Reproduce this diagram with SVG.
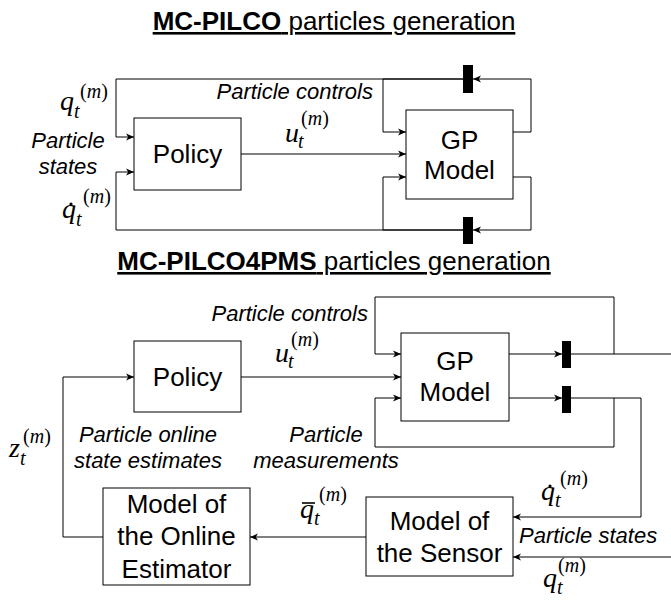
<svg xmlns="http://www.w3.org/2000/svg" width="671" height="600" viewBox="0 0 671 600">
<style>
.box{fill:#fff;stroke:#000;stroke-width:1}
.bl{font-family:"Liberation Sans",Arial,sans-serif;font-size:26px;fill:#000;text-anchor:middle}
.it{font-family:"Liberation Sans",Arial,sans-serif;font-size:22px;font-style:italic;fill:#000}
.title{font-family:"Liberation Sans",Arial,sans-serif;font-size:26px;fill:#000;text-anchor:middle;text-decoration:underline}
.mb{font-family:"Liberation Serif","Times New Roman",serif;font-size:28px;font-style:italic;fill:#000}
.ms{font-family:"Liberation Serif","Times New Roman",serif;font-size:20px;font-style:italic;fill:#000}
.up{font-style:normal}
.ln{fill:none;stroke:#000;stroke-width:1}
.bar{fill:#000}
</style>
<defs>
<marker id="ah" markerUnits="userSpaceOnUse" markerWidth="9" markerHeight="8" refX="8" refY="4" orient="auto">
<path d="M0,0.5 L8,4 L0,7.5 L2.2,4 Z" fill="#000"/>
</marker>
</defs>

<text class="title" x="334" y="30"><tspan font-weight="bold">MC-PILCO</tspan> particles generation</text>
<text class="title" x="334" y="270"><tspan font-weight="bold">MC-PILCO4PMS</tspan> particles generation</text>

<g id="connectors">
<path class="ln" d="M241,154 H406" marker-end="url(#ah)"/>
<path class="ln" d="M513,132 H531 V79 H473" marker-end="url(#ah)"/>
<path class="ln" d="M463,79 H383 V132 H406" marker-end="url(#ah)"/>
<path class="ln" d="M463,79 H116 V137 H134" marker-end="url(#ah)"/>
<path class="ln" d="M513,177 H531 V230 H473" marker-end="url(#ah)"/>
<path class="ln" d="M463,230 H383 V177 H406" marker-end="url(#ah)"/>
<path class="ln" d="M463,230 H116 V172 H134" marker-end="url(#ah)"/>
<rect class="bar" x="463" y="65" width="10" height="28"/>
<rect class="bar" x="463" y="217" width="10" height="27"/>
<path class="ln" d="M241,377 H401" marker-end="url(#ah)"/>
<path class="ln" d="M509,354 H562" marker-end="url(#ah)"/>
<path class="ln" d="M571,354 H671"/>
<path class="ln" d="M614,354 V297 H375 V354 H401" marker-end="url(#ah)"/>
<path class="ln" d="M509,398 H562" marker-end="url(#ah)"/>
<path class="ln" d="M571,398 H641 V517 H513" marker-end="url(#ah)"/>
<path class="ln" d="M614,398 V447 H375 V398 H401" marker-end="url(#ah)"/>
<path class="ln" d="M671,557 H513" marker-end="url(#ah)"/>
<path class="ln" d="M366,537 H250" marker-end="url(#ah)"/>
<path class="ln" d="M103,537 H63 V377 H134" marker-end="url(#ah)"/>
<rect class="bar" x="562" y="341" width="9" height="27"/>
<rect class="bar" x="562" y="386" width="9" height="27"/>
</g>

<g id="policy-top"><rect class="box" x="134" y="118" width="107" height="72"/><text class="bl" x="187.5" y="163">Policy</text></g>
<g id="gp-top"><rect class="box" x="406" y="110" width="107" height="89"/><text class="bl" x="459.5" y="149">GP</text><text class="bl" x="459.5" y="179">Model</text></g>

<g id="policy-bottom"><rect class="box" x="134" y="341" width="107" height="71"/><text class="bl" x="187.5" y="386">Policy</text></g>
<g id="gp-bottom"><rect class="box" x="401" y="333" width="108" height="88"/><text class="bl" x="455" y="370">GP</text><text class="bl" x="455" y="401">Model</text></g>
<g id="sensor"><rect class="box" x="366" y="497" width="147" height="79"/><text class="bl" x="439.5" y="530">Model of</text><text class="bl" x="439.5" y="562">the Sensor</text></g>
<g id="estimator"><rect class="box" x="103" y="488" width="147" height="97"/><text class="bl" x="176.5" y="513">Model of</text><text class="bl" x="176.5" y="545">the Online</text><text class="bl" x="176.5" y="578">Estimator</text></g>

<g id="labels">
<text class="it" x="373" y="99" text-anchor="end">Particle controls</text>
<text class="it" x="68" y="148" text-anchor="middle">Particle</text>
<text class="it" x="68" y="174" text-anchor="middle">states</text>
<text class="it" x="368" y="321" text-anchor="end">Particle controls</text>
<text class="it" x="148" y="442" text-anchor="middle">Particle online</text>
<text class="it" x="148" y="468" text-anchor="middle">state estimates</text>
<text class="it" x="326" y="442" text-anchor="middle">Particle</text>
<text class="it" x="326" y="468" text-anchor="middle">measurements</text>
<text class="it" x="519" y="543">Particle states</text>
</g>

<g id="math">
<text class="mb" x="60" y="110">q</text><text class="ms" x="74" y="118">t</text><text class="ms" x="80" y="98"><tspan class="up">(</tspan>m<tspan class="up">)</tspan></text>
<text class="mb" x="62" y="218">q</text><circle cx="71" cy="204" r="1.6"/><text class="ms" x="76" y="226">t</text><text class="ms" x="83" y="203"><tspan class="up">(</tspan>m<tspan class="up">)</tspan></text>
<text class="mb" x="285" y="142">u</text><text class="ms" x="298" y="148">t</text><text class="ms" x="301" y="125"><tspan class="up">(</tspan>m<tspan class="up">)</tspan></text>
<text class="mb" x="275" y="362">u</text><text class="ms" x="288" y="368">t</text><text class="ms" x="291" y="346"><tspan class="up">(</tspan>m<tspan class="up">)</tspan></text>
<text class="mb" x="9" y="457">z</text><text class="ms" x="20" y="465">t</text><text class="ms" x="23" y="443"><tspan class="up">(</tspan>m<tspan class="up">)</tspan></text>
<text class="mb" x="300" y="518">q</text><line x1="302" y1="503" x2="315" y2="503" stroke="#000" stroke-width="1.6"/><text class="ms" x="314" y="525">t</text><text class="ms" x="319" y="501"><tspan class="up">(</tspan>m<tspan class="up">)</tspan></text>
<text class="mb" x="541" y="500">q</text><circle cx="550" cy="486" r="1.6"/><text class="ms" x="555" y="507">t</text><text class="ms" x="560" y="485"><tspan class="up">(</tspan>m<tspan class="up">)</tspan></text>
<text class="mb" x="543" y="587">q</text><text class="ms" x="557" y="594">t</text><text class="ms" x="558" y="572"><tspan class="up">(</tspan>m<tspan class="up">)</tspan></text>
</g>
</svg>
